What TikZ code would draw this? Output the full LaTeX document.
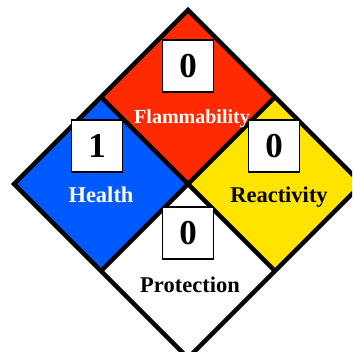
\documentclass[tikz,border=0pt]{standalone}
\usepackage{fontspec}
\setmainfont{Liberation Serif}
\definecolor{flamred}{RGB}{255,42,0}
\definecolor{healthblue}{RGB}{0,90,255}
\definecolor{reactyellow}{RGB}{255,228,0}
\tikzset{
  numbox/.style={draw, line width=1.5pt, fill=white, minimum width=51pt,
    minimum height=52pt, inner sep=0pt, font=\fontsize{35}{35}\selectfont\bfseries},
  hazname/.style={anchor=base, inner sep=0pt, font=\fontsize{22.5}{23}\selectfont\bfseries}
}

\begin{document}
\begin{tikzpicture}[x=1pt, y=-1pt]
\useasboundingbox (0,0) rectangle (352,352);
\clip (0,0) rectangle (352,352);
\coordinate (T) at (188,10);
\coordinate (L) at (14,184);
\coordinate (R) at (362,184);
\coordinate (B) at (188,358);
\coordinate (C) at (188,184);
\coordinate (TL) at (101,97);
\coordinate (TR) at (275,97);
\coordinate (BL) at (101,271);
\coordinate (BR) at (275,271);
\fill[flamred] (T) -- (TR) -- (C) -- (TL) -- cycle;
\fill[healthblue] (TL) -- (C) -- (BL) -- (L) -- cycle;
\fill[reactyellow] (TR) -- (R) -- (BR) -- (C) -- cycle;
\fill[white] (C) -- (BR) -- (B) -- (BL) -- cycle;
\draw[line width=4.5pt] (T) -- (R) -- (B) -- (L) -- cycle;
\draw[line width=4.5pt] (TL) -- (BR);
\draw[line width=4.5pt] (TR) -- (BL);
\path (188,66) node[numbox] (flamnum) {0};
\path (97,146) node[numbox] (healthnum) {1};
\path (274,146) node[numbox] (reactnum) {0};
\path (188,233) node[numbox] (protnum) {0};
\path (192,124) node[hazname, white, font=\fontsize{20}{20}\selectfont\bfseries] (flam) {Flammability};
\path (101,202) node[hazname, white] (health) {Health};
\path (279,202) node[hazname] (react) {Reactivity};
\path (190,292) node[hazname] (prot) {Protection};
\end{tikzpicture}
\end{document}
